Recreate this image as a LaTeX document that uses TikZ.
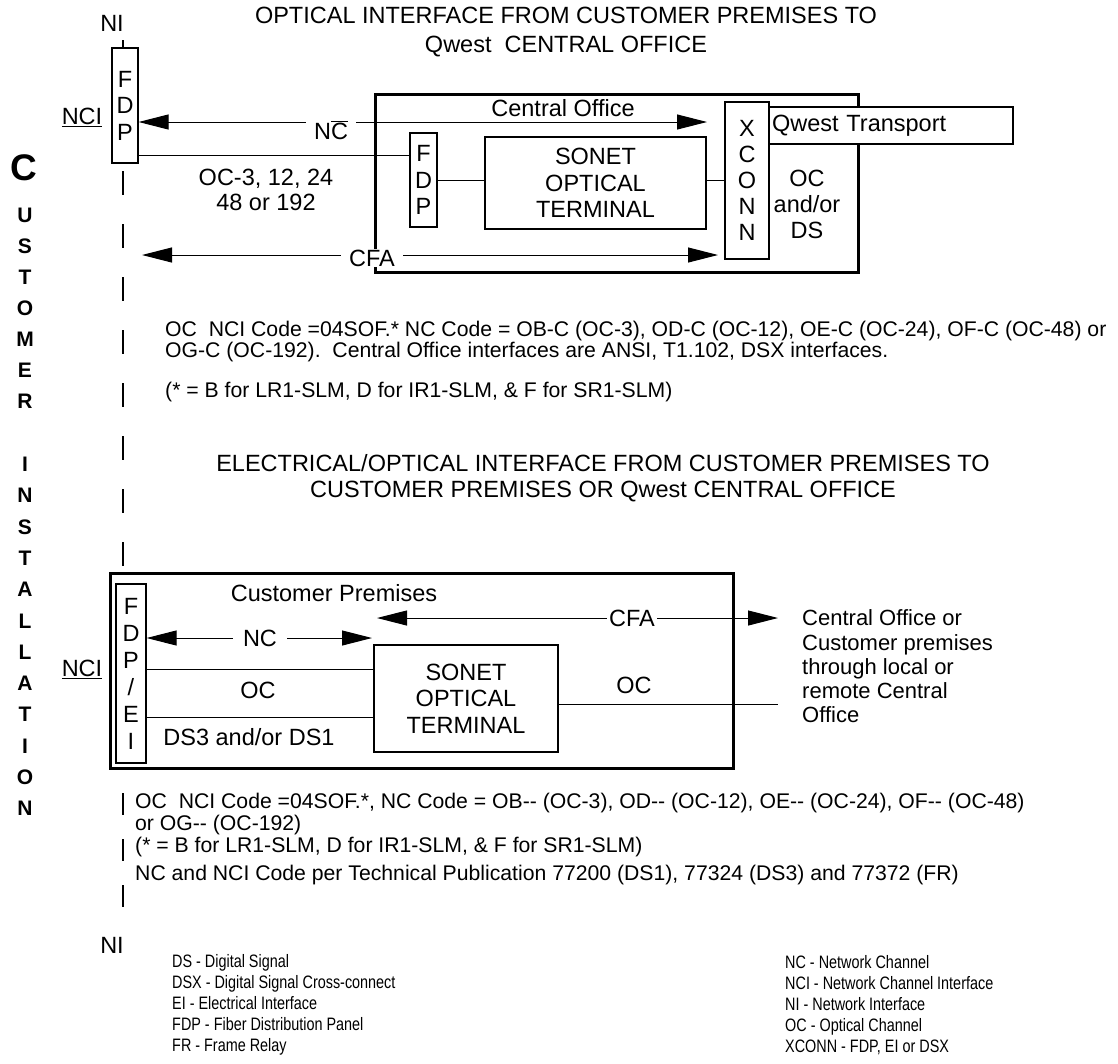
\documentclass[tikz,border=0pt]{standalone}
\usepackage{fontspec}
\setmainfont{Liberation Sans}
\newfontfamily\narrowfont{Liberation Sans}[FakeStretch=0.8]
\usetikzlibrary{arrows.meta,backgrounds}

\newcommand{\fsz}[2]{\fontsize{#1}{#2}\selectfont}

\begin{document}
\begin{tikzpicture}[x=1pt,y=-1pt]

    \tikzset{
      panel/.style={draw, line width=1.2pt, fill=white, inner sep=0pt, align=center, font=\fsz{23.5}{26.5}},
      site/.style={draw, line width=3pt, inner sep=0pt},
      wire/.style={line width=1pt},
      twoway/.style={line width=1pt, {Triangle[length=30pt,width=15pt]}-{Triangle[length=30pt,width=15pt]}},
      tag/.style={fill=white, inner ysep=1pt, inner xsep=8pt, font=\fsz{23.5}{26.5}},
      txt/.style={inner sep=0pt, align=center, font=\fsz{23.5}{26.5}},
      note/.style={inner sep=0pt, anchor=west, align=left, font=\fsz{21.2}{21}},
      legend/.style={inner sep=0pt, anchor=west, align=left, font=\narrowfont\fsz{18}{21}},
      vletter/.style={inner sep=0pt, font=\bfseries\fsz{21}{21}},
      niline/.style={line width=1.3pt, dash pattern=on 24pt off 29pt},
    }
    \useasboundingbox (0,0) rectangle (1118,1063);

    % titles
    \node[txt, font=\fsz{23.5}{29}] (title1) at (566,32.5) {OPTICAL INTERFACE FROM CUSTOMER PREMISES TO\\Qwest~~CENTRAL OFFICE};
    \node[txt, font=\fsz{23.5}{26}] (title2) at (603,478) {ELECTRICAL/OPTICAL INTERFACE FROM CUSTOMER PREMISES TO\\CUSTOMER PREMISES OR Qwest CENTRAL OFFICE};

    % customer installation
    \node[vletter, font=\bfseries\fsz{37}{37}] (cbig) at (24,168) {C};
    \foreach \ch [count=\i] in {U,S,T,O,M,E,R}
      \node[vletter] (cu\i) at (25,184+31*\i) {\ch};
    \foreach \ch [count=\i] in {I,N,S,T,A,L,L,A,T,I,O,N}
      \node[vletter] (in\i) at (25,433+31.3*\i) {\ch};

    % optical interface to central office
    \node[txt] (nitop) at (112,23) {NI};
    \node[txt] (nci1) at (82,117) {\underline{NCI}};
    \node[panel, minimum width=26, minimum height=115] (fdp1) at (125,105.5) {F\\D\\P};
    \node[site, minimum width=483, minimum height=178] (cobox) at (616.5,183) {};
    \node[txt] (colabel) at (563,108) {Central Office};
    \node[panel, minimum width=27, minimum height=94] (fdp2) at (423.5,180) {F\\D\\P};
    \node[panel, minimum width=221, minimum height=92] (sonet1) at (595.5,183) {SONET\\OPTICAL\\TERMINAL};
    \node[panel, minimum width=44, minimum height=157, font=\fsz{23.5}{26}] (xconn) at (747,180.5) {X\\C\\O\\N\\N};
    \node[draw, line width=1.2pt, fill=white, inner xsep=3pt, inner ysep=0pt, text width=238pt,
          minimum height=37, align=left, font=\fsz{23.5}{26.5}] (qwest) at (891,125.5) {Qwest Transport};
    \node[txt, font=\fsz{23.5}{26}] (ocds) at (807,204) {OC\\and/or\\DS};
    \node[txt, font=\fsz{23.5}{25}] (ocrates) at (266,189.5) {OC-3, 12, 24\\48 or 192};
    \node[tag] (nc1) at (331,130) {N$\overline{\mbox{C}}$};
    \node[tag] (cfa1) at (372,258) {CFA};

    \coordinate (nc1 end) at (707,122);
    \coordinate (cfa1 l) at (142,255);
    \coordinate (cfa1 r) at (718,255);

    % notes, central office
    \node[note] (note1) at (165,341.5) {OC~~NCI Code =04SOF.* NC Code = OB-C (OC-3), OD-C (OC-12), OE-C (OC-24), OF-C (OC-48) or\\OG-C (OC-192).~~Central Office interfaces are ANSI, T1.102, DSX interfaces.};
    \node[note] (note1b) at (165,392) {(* = B for LR1-SLM, D for IR1-SLM, \& F for SR1-SLM)};

    % electrical/optical interface
    \node[site, minimum width=623, minimum height=195] (cpbox) at (421.5,670.5) {};
    \node[txt] (cplabel) at (334,593) {Customer Premises};
    \node[panel, minimum width=30, minimum height=179, font=\fsz{23.5}{27}] (fdpei) at (131,673.5) {F\\D\\P\\/\\E\\I};
    \node[txt] (nci2) at (82,669) {\underline{NCI}};
    \node[panel, minimum width=184, minimum height=107] (sonet2) at (466,698.5) {SONET\\OPTICAL\\TERMINAL};
    \node[txt] (oc2) at (258,690) {OC};
    \node[txt] (ds2) at (249,737) {DS3 and/or DS1};
    \node[txt] (oc3) at (634,685) {OC};
    \node[tag, inner xsep=10pt] (nc2) at (260,638) {NC};
    \node[tag, inner xsep=2pt] (cfa2) at (632,618) {CFA};
    \node[inner sep=0pt, anchor=west, align=left, font=\fsz{22}{24.3}] (farend) at (802,666.5)
      {Central Office or\\Customer premises\\through local or\\remote Central\\Office};

    \coordinate (nc2 end) at (372,638);
    \coordinate (cfa2 l) at (377,618);
    \coordinate (cfa2 r) at (778,618);
    \coordinate (oc end) at (778,704);

    % notes, customer premises
    \node[note] (note2) at (135,814) {OC~~NCI Code =04SOF.*, NC Code = OB-{}- (OC-3), OD-{}- (OC-12), OE-{}- (OC-24), OF-{}- (OC-48)\\or OG-{}- (OC-192)};
    \node[note] (note2b) at (135,847) {(* = B for LR1-SLM, D for IR1-SLM, \& F for SR1-SLM)};
    \node[note] (note2c) at (135,875) {NC and NCI Code per Technical Publication 77200 (DS1), 77324 (DS3) and 77372 (FR)};
    \node[txt] (nibot) at (112,945) {NI};

    % legend
    \node[legend] (keyleft) at (172,1005) {DS - Digital Signal\\DSX - Digital Signal Cross-connect\\EI - Electrical Interface\\FDP - Fiber Distribution Panel\\FR - Frame Relay};
    \node[legend] (keyright) at (785,1005) {NC - Network Channel\\NCI - Network Channel Interface\\NI - Network Interface\\OC - Optical Channel\\XCONN - FDP, EI or DSX};

    \coordinate (ni a) at (123,40);
    \coordinate (ni b) at (123,171);
    \coordinate (ni c) at (123,793);
    \coordinate (ni d) at (123,907);

    \begin{scope}[on background layer]
      % network interface line
      \draw[wire, line width=1.3pt] (ni a) -- (ni a |- fdp1.north);
      \draw[niline] (ni b) -- (ni b |- cpbox.north);
      \draw[niline, dash pattern=on 22pt off 24pt] (ni c) -- (ni d);

      \draw[twoway] (fdp1.east |- nc1 end) -- (nc1 end);
      \draw[wire] (fdp1.east |- 0,155) -- (fdp2.west |- 0,155);
      \draw[wire] (fdp2.east) -- (sonet1.west |- fdp2.east);
      \draw[wire] (sonet1.east |- xconn.west) -- (xconn.west);
      \draw[twoway] (cfa1 l) -- (cfa1 r);

      \draw[twoway] (fdpei.east |- nc2 end) -- (nc2 end);
      \draw[twoway] (cfa2 l) -- (cfa2 r);
      \draw[wire] (fdpei.east |- 0,669) -- (sonet2.west |- 0,669);
      \draw[wire] (fdpei.east |- 0,717) -- (sonet2.west |- 0,717);
      \draw[wire] (sonet2.east |- oc end) -- (oc end);
    \end{scope}

\end{tikzpicture}
\end{document}
